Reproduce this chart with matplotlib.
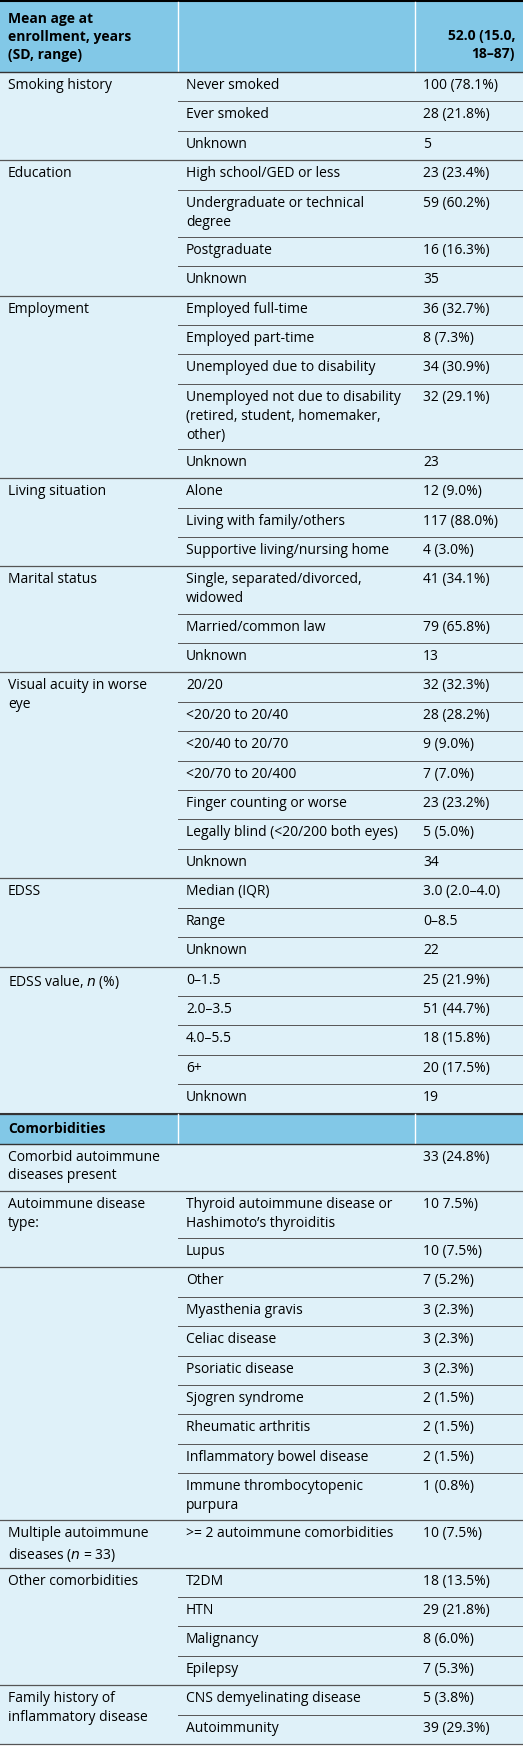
import matplotlib.pyplot as plt
from matplotlib.patches import Rectangle

plt.rcParams['font.family'] = ['Open Sans', 'DejaVu Sans']

# groups: (label, [(subrow, value), ...])
header = ("Mean age at\nenrollment, years\n(SD, range)", "", "52.0 (15.0,\n18–87)")
groups1 = [
    ("Smoking history", [("Never smoked", "100 (78.1%)"), ("Ever smoked", "28 (21.8%)"), ("Unknown", "5")]),
    ("Education", [("High school/GED or less", "23 (23.4%)"),
                   ("Undergraduate or technical\ndegree", "59 (60.2%)"),
                   ("Postgraduate", "16 (16.3%)"), ("Unknown", "35")]),
    ("Employment", [("Employed full-time", "36 (32.7%)"), ("Employed part-time", "8 (7.3%)"),
                    ("Unemployed due to disability", "34 (30.9%)"),
                    ("Unemployed not due to disability\n(retired, student, homemaker,\nother)", "32 (29.1%)"),
                    ("Unknown", "23")]),
    ("Living situation", [("Alone", "12 (9.0%)"), ("Living with family/others", "117 (88.0%)"),
                          ("Supportive living/nursing home", "4 (3.0%)")]),
    ("Marital status", [("Single, separated/divorced,\nwidowed", "41 (34.1%)"),
                        ("Married/common law", "79 (65.8%)"), ("Unknown", "13")]),
    ("Visual acuity in worse\neye", [("20/20", "32 (32.3%)"), ("<20/20 to 20/40", "28 (28.2%)"),
                                     ("<20/40 to 20/70", "9 (9.0%)"), ("<20/70 to 20/400", "7 (7.0%)"),
                                     ("Finger counting or worse", "23 (23.2%)"),
                                     ("Legally blind (<20/200 both eyes)", "5 (5.0%)"), ("Unknown", "34")]),
    ("EDSS", [("Median (IQR)", "3.0 (2.0–4.0)"), ("Range", "0–8.5"), ("Unknown", "22")]),
    ("EDSS value, $n$ (%)", [("0–1.5", "25 (21.9%)"), ("2.0–3.5", "51 (44.7%)"), ("4.0–5.5", "18 (15.8%)"),
                             ("6+", "20 (17.5%)"), ("Unknown", "19")]),
]
section2 = "Comorbidities"
groups2 = [
    ("Comorbid autoimmune\ndiseases present", [("", "33 (24.8%)")]),
    ("Autoimmune disease\ntype:", [("Thyroid autoimmune disease or\nHashimoto’s thyroiditis", "10 7.5%)"),
                                   ("Lupus", "10 (7.5%)")]),
    ("", [("Other", "7 (5.2%)"), ("Myasthenia gravis", "3 (2.3%)"), ("Celiac disease", "3 (2.3%)"),
          ("Psoriatic disease", "3 (2.3%)"), ("Sjogren syndrome", "2 (1.5%)"),
          ("Rheumatic arthritis", "2 (1.5%)"), ("Inflammatory bowel disease", "2 (1.5%)"),
          ("Immune thrombocytopenic\npurpura", "1 (0.8%)")]),
    ("Multiple autoimmune\ndiseases ($n$ = 33)", [(">= 2 autoimmune comorbidities", "10 (7.5%)")]),
    ("Other comorbidities", [("T2DM", "18 (13.5%)"), ("HTN", "29 (21.8%)"), ("Malignancy", "8 (6.0%)"),
                             ("Epilepsy", "7 (5.3%)")]),
    ("Family history of\ninflammatory disease", [("CNS demyelinating disease", "5 (3.8%)"),
                                                 ("Autoimmunity", "39 (29.3%)")]),
]

W, H = 523, 1746
X1, X2 = 178, 415
HDR_BG, BODY_BG = '#82c8e7', '#dff1f9'
PAD, LH = 12, 18.2
FS = 10

def nl(s):
    return s.count('\n') + 1

fig = plt.figure(figsize=(W / 100, H / 100), dpi=100)
ax = fig.add_axes([0, 0, 1, 1])
ax.set_xlim(0, W)
ax.set_ylim(H, 0)
ax.axis('off')

hdr_h = 70
sec_h = 30
def group_heights(groups):
    out = []
    for lab, rows in groups:
        hs = []
        for i, (a, b) in enumerate(rows):
            n = max(nl(a), nl(b), nl(lab) if len(rows) == 1 else 1)
            hs.append(PAD + LH * n)
        out.append(hs)
    return out
g1h = group_heights(groups1)
g2h = group_heights(groups2)
body = sum(map(sum, g1h)) + sum(map(sum, g2h))
scale = (H - 4 - hdr_h - sec_h) / body

def header_row(y, h, texts):
    ax.add_patch(Rectangle((0, y), W, h, color=HDR_BG, lw=0))
    for xs in (X1, X2):
        ax.plot([xs, xs], [y, y + h], color='white', lw=1)
    ax.text(8, y + h / 2, texts[0], fontsize=FS, weight='bold', va='center', linespacing=1.35)
    ax.text(W - 8, y + h / 2 + (8 if nl(texts[2]) > 1 else 0), texts[2], fontsize=FS,
            weight='bold', va='center', ha='right', linespacing=1.35)

def draw_groups(y, groups, heights):
    for (lab, rows), hs in zip(groups, heights):
        gh = sum(hs) * scale
        ax.add_patch(Rectangle((0, y), W, gh, color=BODY_BG, lw=0))
        ax.text(8, y + 6, lab, fontsize=FS, va='top', linespacing=1.35)
        yy = y
        for i, ((a, b), h) in enumerate(zip(rows, hs)):
            h = h * scale
            ax.text(X1 + 8, yy + 6, a, fontsize=FS, va='top', linespacing=1.35)
            ax.text(X2 + 8, yy + 6, b, fontsize=FS, va='top', linespacing=1.35)
            yy += h
            if i < len(rows) - 1:
                ax.plot([X1, W], [yy, yy], color='#555555', lw=0.7)
        y = yy
        ax.plot([0, W], [y, y], color='#555555', lw=0.9)
    return y

ax.plot([0, W], [1, 1], color='black', lw=1.5)
y = 2
header_row(y, hdr_h, header)
y += hdr_h
ax.plot([0, W], [y, y], color='#333333', lw=1)
y = draw_groups(y, groups1, g1h)
ax.plot([0, W], [y, y], color='#333333', lw=1.5)
header_row(y, sec_h, (section2, "", ""))
y += sec_h
ax.plot([0, W], [y, y], color='#333333', lw=1)
y = draw_groups(y, groups2, g2h)

fig.savefig('out.png', dpi=100)
